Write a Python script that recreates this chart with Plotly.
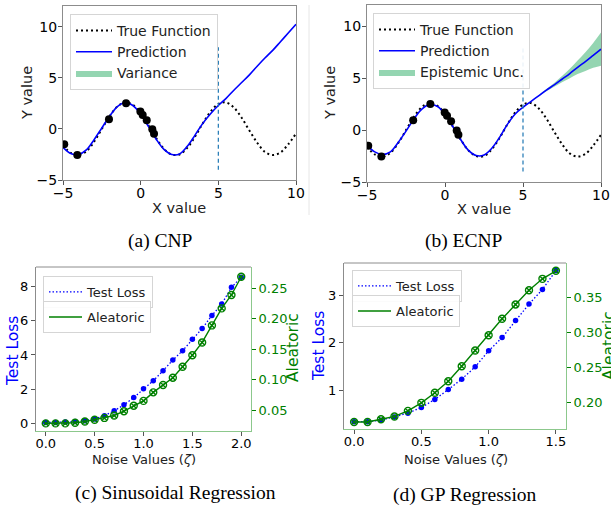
import plotly.graph_objects as go

# -----------------------------
# Data
# -----------------------------
x_grid = [-5, -4.5, -4, -3.5, -3, -2.5, -2, -1.5, -1, -0.5, 0, 0.5, 1, 1.5, 2, 2.5,
          3, 3.5, 4, 4.5, 5, 5.5, 6, 6.5, 7, 7.5, 8, 8.5, 9, 9.5, 10]

true_y = [-1.6, -2.35, -2.55, -2.2, -1.25, 0.0, 1.25, 2.2, 2.6, 2.35, 1.55, 0.35,
          -0.9, -1.95, -2.5, -2.5, -1.85, -0.75, 0.55, 1.7, 2.45, 2.6, 2.1, 1.1,
          -0.15, -1.35, -2.25, -2.55, -2.3, -1.5, -0.45]

cnp_pred = [-1.8, -2.4, -2.5, -2.05, -1.05, 0.1, 1.25, 2.2, 2.6, 2.3, 1.45, 0.25,
            -1.0, -2.0, -2.5, -2.45, -1.7, -0.6, 0.55, 1.5, 2.3, 3.0, 3.8, 4.55,
            5.3, 6.15, 6.95, 7.7, 8.55, 9.4, 10.25]
cnp_std = [0.03] * 31

ecnp_pred = [-1.5, -2.1, -2.35, -2.1, -1.2, -0.1, 1.05, 2.0, 2.45, 2.3, 1.55, 0.35,
             -0.9, -1.95, -2.45, -2.4, -1.75, -0.7, 0.55, 1.55, 2.2, 2.75, 3.3,
             3.85, 4.35, 4.9, 5.45, 6.05, 6.6, 7.2, 7.8]
ecnp_epi = [0, 0, 0, 0, 0, 0, 0, 0, 0, 0, 0, 0, 0, 0, 0, 0, 0, 0, 0, 0,
            0.0, 0.02, 0.05, 0.1, 0.18, 0.3, 0.45, 0.65, 0.9, 1.2, 1.6]

ctx_x = [-4.92, -4.08, -2.04, -0.94, -0.02, 0.13, 0.39, 0.75, 0.86]
ctx_y = [-1.5, -2.55, 0.95, 2.52, 1.7, 1.37, 0.85, -0.03, -0.46]

boundary_x = 5
boundary_y = [-4, 8]

noise_sin = [0.0, 0.1, 0.2, 0.3, 0.4, 0.5, 0.6, 0.7, 0.8, 0.9, 1.0,
             1.1, 1.2, 1.3, 1.4, 1.5, 1.6, 1.7, 1.8, 1.9, 2.0]
loss_sin = [0.05, 0.05, 0.07, 0.1, 0.15, 0.25, 0.45, 0.73, 1.08, 1.51, 2.02,
            2.49, 3.08, 3.7, 4.25, 4.92, 5.55, 6.31, 6.98, 7.96, 8.55]
alea_sin = [0.028, 0.028, 0.028, 0.029, 0.031, 0.034, 0.037, 0.041, 0.048, 0.057,
            0.065, 0.079, 0.091, 0.103, 0.121, 0.140, 0.161, 0.189, 0.217, 0.239, 0.269]

noise_gp = [0.0, 0.1, 0.2, 0.3, 0.4, 0.5, 0.6, 0.7, 0.8, 0.9, 1.0, 1.1, 1.2, 1.3, 1.4, 1.5]
loss_gp = [0.33, 0.33, 0.36, 0.43, 0.51, 0.63, 0.80, 1.01, 1.23, 1.49, 1.83,
           2.11, 2.47, 2.82, 3.13, 3.53]
alea_gp = [0.172, 0.172, 0.176, 0.180, 0.188, 0.1995, 0.214, 0.2305, 0.252, 0.2745,
           0.2965, 0.320, 0.3405, 0.361, 0.3773, 0.3888]

captions = ["(a) CNP", "(b) ECNP", "(c) Sinusoidal Regression", "(d) GP Regression"]

# -----------------------------
# Style
# -----------------------------
W, H = 611, 508
FONT = "DejaVu Sans"
BAND = "rgba(60,179,113,0.55)"
SPINE = "#8c8c8c"
GREEN = "green"
GREEN_SPINE = "rgb(140,200,140)"


def px_x(p):
    return p / W


def px_y(p):
    return 1 - p / H


fig = go.Figure()

# -----------------------------
# Top row: CNP / ECNP
# -----------------------------
panels = [
    ("x", "y", "legend", cnp_pred, cnp_std, "Variance"),
    ("x2", "y2", "legend2", ecnp_pred, ecnp_epi, "Epistemic Unc."),
]
for xa, ya, lg, pred, spread, band_name in panels:
    lower = [m - s for m, s in zip(pred, spread)]
    upper = [m + s for m, s in zip(pred, spread)]
    fig.add_trace(go.Scatter(x=x_grid, y=lower, mode="lines", line=dict(width=0),
                             showlegend=False, hoverinfo="skip", xaxis=xa, yaxis=ya,
                             line_shape="spline"))
    fig.add_trace(go.Scatter(x=x_grid, y=upper, mode="lines", line=dict(width=0),
                             fill="tonexty", fillcolor=BAND, name=band_name,
                             legend=lg, legendrank=3, xaxis=xa, yaxis=ya,
                             line_shape="spline"))
    fig.add_trace(go.Scatter(x=x_grid, y=true_y, mode="lines", name="True Function",
                             line=dict(color="black", width=2, dash="2px,3px", shape="spline"),
                             legend=lg, legendrank=1, xaxis=xa, yaxis=ya))
    fig.add_trace(go.Scatter(x=x_grid, y=pred, mode="lines", name="Prediction",
                             line=dict(color="blue", width=1.6, shape="spline"),
                             legend=lg, legendrank=2, xaxis=xa, yaxis=ya))
    fig.add_trace(go.Scatter(x=[boundary_x, boundary_x], y=boundary_y, mode="lines",
                             line=dict(color="#1f77b4", width=1.2, dash="4px,3px"),
                             showlegend=False, xaxis=xa, yaxis=ya))
    fig.add_trace(go.Scatter(x=ctx_x, y=ctx_y, mode="markers",
                             marker=dict(color="black", size=8),
                             showlegend=False, xaxis=xa, yaxis=ya))

# -----------------------------
# Bottom row: noise experiments
# -----------------------------
bottom = [
    ("x3", "y3", "y4", "legend3", "legend4", noise_sin, loss_sin, alea_sin),
    ("x4", "y5", "y6", "legend5", "legend6", noise_gp, loss_gp, alea_gp),
]
for xa, yl, yr, lg1, lg2, nx, loss, alea in bottom:
    fig.add_trace(go.Scatter(x=nx, y=loss, mode="lines", name="Test Loss",
                             line=dict(color="blue", width=1.3, dash="1.5px,2px"),
                             legend=lg1, xaxis=xa, yaxis=yl))
    fig.add_trace(go.Scatter(x=nx, y=loss, mode="markers", showlegend=False,
                             marker=dict(color="blue", size=5.5),
                             xaxis=xa, yaxis=yl))
    fig.add_trace(go.Scatter(x=nx, y=alea, mode="lines", name="Aleatoric",
                             line=dict(color=GREEN, width=1.4),
                             legend=lg2, xaxis=xa, yaxis=yr))
    fig.add_trace(go.Scatter(x=nx, y=alea, mode="markers", showlegend=False,
                             marker=dict(color=GREEN, size=7, symbol="circle-x-open",
                                         line=dict(width=1.4, color=GREEN)),
                             xaxis=xa, yaxis=yr))

# -----------------------------
# Axes
# -----------------------------
top_tick = dict(family=FONT, size=14, color="black")
bot_tick = dict(family=FONT, size=13, color="black")


def base_axis(**kw):
    d = dict(showgrid=False, zeroline=False, showline=True, linecolor=SPINE,
             linewidth=1, ticks="outside", ticklen=4, tickcolor="#555",
             automargin=False)
    d.update(kw)
    return d


ticks_top = dict(tickvals=[-5, 0, 5, 10], ticktext=["−5", "0", "5", "10"],
                 tickfont=top_tick, mirror=True)

layout = dict(
    width=W, height=H, autosize=False,
    margin=dict(l=0, r=0, t=0, b=0),
    paper_bgcolor="white", plot_bgcolor="white",
    font=dict(family=FONT, size=13, color="black"),
    xaxis=base_axis(domain=[px_x(63), px_x(296)], range=[-5, 10], anchor="y",
                    ticklabelstandoff=-4, **ticks_top),
    yaxis=base_axis(domain=[px_y(180), px_y(6)], range=[-5, 12.05], anchor="x",
                    ticklabelstandoff=-2, **ticks_top),
    xaxis2=base_axis(domain=[px_x(367), px_x(601)], range=[-5, 10], anchor="y2",
                     ticklabelstandoff=-4, **ticks_top),
    yaxis2=base_axis(domain=[px_y(182), px_y(5)], range=[-5, 12.05], anchor="x2",
                     ticklabelstandoff=-2, **ticks_top),
    xaxis3=base_axis(domain=[px_x(36), px_x(251)], range=[-0.1, 2.1], anchor="y3",
                     linecolor=GREEN_SPINE, tickvals=[0, 0.5, 1.0, 1.5, 2.0],
                     tickformat=".1f", tickfont=bot_tick, ticklabelstandoff=-4),
    yaxis3=base_axis(domain=[px_y(431), px_y(267)], range=[-0.45, 9.15], anchor="x3",
                     tickvals=[0, 2, 4, 6, 8], tickfont=bot_tick),
    yaxis4=base_axis(overlaying="y3", side="right", anchor="x3", range=[0.0155, 0.285],
                     linecolor=GREEN_SPINE, tickcolor=GREEN,
                     tickvals=[0.05, 0.10, 0.15, 0.20, 0.25], tickformat=".2f",
                     tickfont=dict(family=FONT, size=13, color=GREEN)),
    xaxis4=base_axis(domain=[px_x(344), px_x(566)], range=[-0.075, 1.575], anchor="y5",
                     linecolor=GREEN_SPINE, tickvals=[0, 0.5, 1.0, 1.5],
                     tickformat=".1f", tickfont=bot_tick, ticklabelstandoff=-4),
    yaxis5=base_axis(domain=[px_y(429), px_y(263)], range=[0.174, 3.69], anchor="x4",
                     tickvals=[1, 2, 3], tickfont=bot_tick),
    yaxis6=base_axis(overlaying="y5", side="right", anchor="x4", range=[0.162, 0.400],
                     linecolor=GREEN_SPINE, tickcolor=GREEN,
                     tickvals=[0.20, 0.25, 0.30, 0.35], tickformat=".2f",
                     tickfont=dict(family=FONT, size=13, color=GREEN)),
)

legend_style = dict(bgcolor="rgba(255,255,255,0.9)", bordercolor="#d5d5d5", borderwidth=1,
                    xanchor="left", yanchor="top", tracegroupgap=0, traceorder="normal")
legend_pos = {
    "legend": (70, 14, 14, 36),
    "legend2": (373, 13, 14, 36),
    "legend3": (43, 276, 13, 33),
    "legend4": (43, 301, 13, 33),
    "legend5": (352, 270, 13, 33),
    "legend6": (352, 295, 13, 33),
}
for name, (lx, ly, fs, iw) in legend_pos.items():
    layout[name] = dict(legend_style, x=px_x(lx), y=px_y(ly), itemwidth=iw,
                        font=dict(family=FONT, size=fs, color="#222"))

fig.update_layout(**layout)

# top spines of the twin-axis panels
fig.add_shape(type="line", xref="paper", yref="paper", x0=px_x(36), x1=px_x(251),
              y0=px_y(267), y1=px_y(267), line=dict(color=SPINE, width=1))
fig.add_shape(type="line", xref="paper", yref="paper", x0=px_x(344), x1=px_x(566),
              y0=px_y(263), y1=px_y(263), line=dict(color=SPINE, width=1))

# thin separator between the two top panels
fig.add_shape(type="line", xref="paper", yref="paper", x0=px_x(309), x1=px_x(309),
              y0=px_y(215), y1=px_y(5), line=dict(color="#e6e6e6", width=1))

# -----------------------------
# Axis titles (placed in pixels)
# -----------------------------
axis_titles = [
    ("X value", 179, 208, 0, "#222", 14.5),
    ("Y value", 27, 93, -90, "#222", 14.5),
    ("X value", 484, 209, 0, "#222", 14.5),
    ("Y value", 330, 93, -90, "#222", 14.5),
    ("Noise Values (<i>ζ</i>)", 144, 459, 0, "#222", 13),
    ("Test Loss", 13, 351, -90, "blue", 15.5),
    ("Aleatoric", 293, 348, -90, GREEN, 15.5),
    ("Noise Values (<i>ζ</i>)", 456, 459, 0, "#222", 13),
    ("Test Loss", 319, 346, -90, "blue", 15.5),
    ("Aleatoric", 609, 346, -90, GREEN, 15.5),
]
for text, tx, ty, ang, col, fs in axis_titles:
    fig.add_annotation(text=text, xref="paper", yref="paper", x=px_x(tx), y=px_y(ty),
                       xanchor="center", yanchor="middle", showarrow=False, textangle=ang,
                       font=dict(family=FONT, size=fs, color=col))

# -----------------------------
# Captions
# -----------------------------
cap_pos = [(160, 241), (464, 241), (175, 493), (465, 495)]
for text, (cx, cy) in zip(captions, cap_pos):
    fig.add_annotation(text=text, xref="paper", yref="paper", x=px_x(cx), y=px_y(cy),
                       xanchor="center", yanchor="middle", showarrow=False,
                       font=dict(family="Liberation Serif", size=19.5, color="black"))

fig.write_html("out.html", config={"displayModeBar": False},
               post_script="document.body.style.margin='0';")
